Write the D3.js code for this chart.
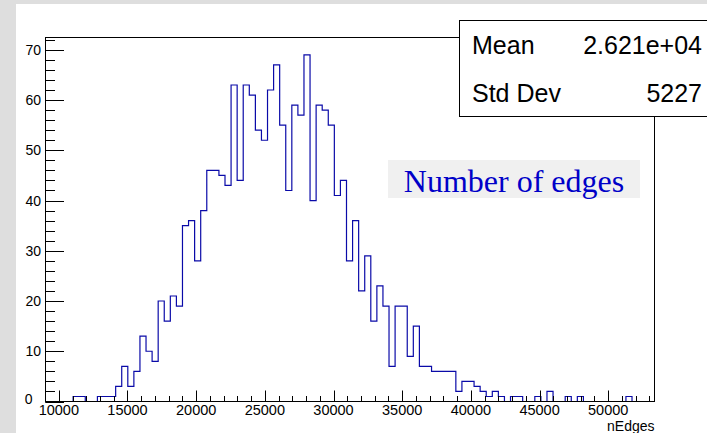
<!DOCTYPE html>
<html>
<head>
<meta charset="utf-8">
<script src="https://cdn.jsdelivr.net/npm/d3@7"></script>
<style>
  html, body { margin: 0; padding: 0; background: #dedede; }
  svg { display: block; }
</style>
</head>
<body>
<svg id="chart" width="707" height="433"></svg>
<script>
// ---- data ----
const xAxisRange = [9030, 53370];
const yAxisMax = 72.45;
const binStart = 8830;
const binWidth = 442.3;
const counts = [
  0,0,0,0,0, 1,1,0,0, 1,1,1,
  3,7,3,6,13,10,8,20,16,21,19,
  35,36,28,38,46,46,45,43,
  63,44,63,61,54,52,62,67,55,42,
  59,57,69,40,59,58,55,41,44,28,
  36,22,29,16,23,19,7,19,19,9,
  15,7,7,6,6,6,6,2,4,4,
  3,2,1,2,1,0,1,1,0,0,
  1,0,2,0,0,1,0,1,0,0,
  0,0,0,0,0,1,0,0,0,0
];
const xMajorTicks = [10000, 15000, 20000, 25000, 30000, 35000, 40000, 45000, 50000];
const xTickLabels = ["10000", "15000", "20000", "25000", "30000", "35000", "40000", "45000", "50000"];
const xMinorStep = 1000;
const yMajorTicks = [0, 10, 20, 30, 40, 50, 60, 70];
const yMinorStep = 2;
const xTitle = "nEdges";
const histTitle = "Number of edges";
const statsLabels = ["Mean", "Std Dev"];
const statsValues = ["2.621e+04", "5227"];

// ---- layout ----
const svg = d3.select("#chart");
const frame = { left: 45.5, right: 654.5, top: 37.5, bottom: 401.5 };

svg.append("rect").attr("x", 16).attr("y", 4).attr("width", 707 - 16).attr("height", 433 - 4).attr("fill", "#ffffff");

const x = d3.scaleLinear().domain(xAxisRange).range([frame.left, frame.right]);
const y = d3.scaleLinear().domain([0, yAxisMax]).range([frame.bottom, frame.top]);

// clip
svg.append("defs").append("clipPath").attr("id", "frameClip")
  .append("rect").attr("x", frame.left).attr("y", frame.top - 2)
  .attr("width", frame.right - frame.left).attr("height", frame.bottom - frame.top + 2);

// histogram step outline
const pts = [[binStart, 0]];
counts.forEach((c, i) => {
  const x0 = binStart + i * binWidth, x1 = x0 + binWidth;
  pts.push([x0, c]); pts.push([x1, c]);
});
pts.push([binStart + counts.length * binWidth, 0]);
const line = d3.line().x(d => x(d[0])).y(d => y(d[1]));
svg.append("path").attr("d", line(pts))
  .attr("clip-path", "url(#frameClip)")
  .attr("fill", "none").attr("stroke", "#0a0aa8").attr("stroke-width", 1.2);

// frame
svg.append("rect").attr("x", frame.left).attr("y", frame.top)
  .attr("width", frame.right - frame.left).attr("height", frame.bottom - frame.top)
  .attr("fill", "none").attr("stroke", "#000").attr("stroke-width", 1);

// x ticks
const xMinor = d3.range(Math.ceil(xAxisRange[0] / xMinorStep) * xMinorStep, xAxisRange[1], xMinorStep);
const gx = svg.append("g");
gx.selectAll("line.minor").data(xMinor).join("line")
  .attr("x1", d => Math.round(x(d)) + 0.5).attr("x2", d => Math.round(x(d)) + 0.5)
  .attr("y1", frame.bottom).attr("y2", frame.bottom - 5.5)
  .attr("stroke", "#000").attr("stroke-width", 1);
gx.selectAll("line.major").data(xMajorTicks).join("line")
  .attr("x1", d => Math.round(x(d)) + 0.5).attr("x2", d => Math.round(x(d)) + 0.5)
  .attr("y1", frame.bottom).attr("y2", frame.bottom - 11)
  .attr("stroke", "#000").attr("stroke-width", 1);
gx.selectAll("text").data(xMajorTicks).join("text")
  .attr("x", d => x(d)).attr("y", 415)
  .attr("text-anchor", "middle")
  .attr("font-family", "Liberation Sans, Arial, sans-serif").attr("font-size", 14.5)
  .attr("fill", "#000")
  .text((d, i) => xTickLabels[i]);
svg.append("text").attr("x", frame.right).attr("y", 431)
  .attr("text-anchor", "end")
  .attr("font-family", "Liberation Sans, Arial, sans-serif").attr("font-size", 14)
  .text(xTitle);

// y ticks
const yMinor = d3.range(0, yAxisMax, yMinorStep);
const gy = svg.append("g");
gy.selectAll("line.minor").data(yMinor).join("line")
  .attr("x1", frame.left).attr("x2", frame.left + 9.5)
  .attr("y1", d => Math.round(y(d)) + 0.5).attr("y2", d => Math.round(y(d)) + 0.5)
  .attr("stroke", "#000").attr("stroke-width", 1);
gy.selectAll("line.major").data(yMajorTicks).join("line")
  .attr("x1", frame.left).attr("x2", frame.left + 18.5)
  .attr("y1", d => Math.round(y(d)) + 0.5).attr("y2", d => Math.round(y(d)) + 0.5)
  .attr("stroke", "#000").attr("stroke-width", 1);
gy.selectAll("text").data(yMajorTicks).join("text")
  .attr("x", d => d === 0 ? 32.5 : 41)
  .attr("y", d => d === 0 ? y(d) - 3 : y(d))
  .attr("dy", "0.36em")
  .attr("text-anchor", "end")
  .attr("font-family", "Liberation Sans, Arial, sans-serif").attr("font-size", 14)
  .attr("fill", "#000")
  .text(d => d);

// title box
svg.append("rect").attr("x", 388).attr("y", 160).attr("width", 252).attr("height", 38).attr("fill", "#f0f0f0");
svg.append("text").attr("x", 514).attr("y", 191.5)
  .attr("text-anchor", "middle")
  .attr("font-family", "Liberation Serif, Times New Roman, serif").attr("font-size", 32)
  .attr("fill", "#0000c8")
  .text(histTitle);

// stats box
svg.append("rect").attr("x", 459.5).attr("y", 20.5).attr("width", 260).attr("height", 96)
  .attr("fill", "#fff").attr("stroke", "#000").attr("stroke-width", 1);
const statsY = [54, 101.5];
statsLabels.forEach((lab, i) => {
  svg.append("text").attr("x", 472).attr("y", statsY[i])
    .attr("font-family", "Liberation Sans, Arial, sans-serif").attr("font-size", 25)
    .text(lab);
  svg.append("text").attr("x", 702).attr("y", statsY[i])
    .attr("text-anchor", "end")
    .attr("font-family", "Liberation Sans, Arial, sans-serif").attr("font-size", 25)
    .text(statsValues[i]);
});
</script>
</body>
</html>
